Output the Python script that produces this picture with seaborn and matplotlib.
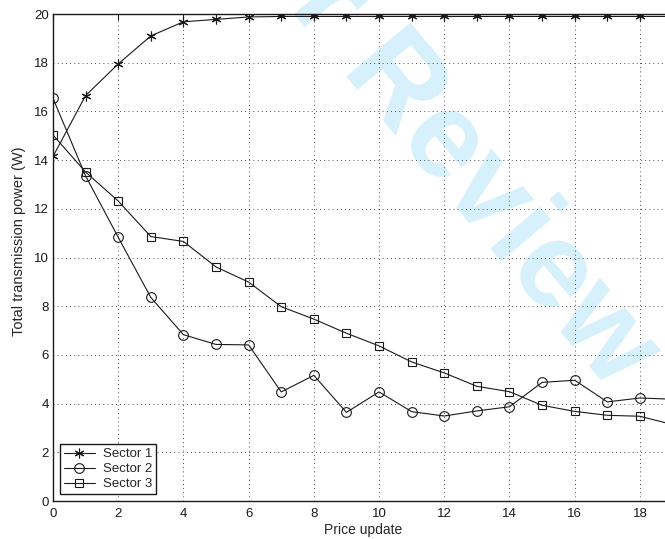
import numpy as np
import pandas as pd
import matplotlib
matplotlib.use("Agg")
import matplotlib.pyplot as plt
import seaborn as sns

# price update steps
updates = list(range(20))

# total transmission power per sector (W)
sector1 = [14.15, 16.65, 17.95, 19.1, 19.68, 19.78, 19.88, 19.9, 19.9, 19.9,
           19.9, 19.9, 19.9, 19.9, 19.9, 19.9, 19.9, 19.9, 19.9, 19.9]
sector2 = [16.54, 13.35, 10.83, 8.36, 6.83, 6.43, 6.41, 4.48, 5.16, 3.64,
           4.48, 3.67, 3.49, 3.7, 3.87, 4.87, 4.96, 4.07, 4.23, 4.18]
sector3 = [15.03, 13.51, 12.32, 10.86, 10.66, 9.61, 8.99, 7.98, 7.47, 6.89,
           6.37, 5.71, 5.26, 4.71, 4.49, 3.93, 3.68, 3.52, 3.48, 3.14]

series_names = ["Sector 1", "Sector 2", "Sector 3"]
watermark = "For Peer Review"

df = pd.DataFrame({
    "update": updates * 3,
    "power": sector1 + sector2 + sector3,
    "sector": np.repeat(series_names, len(updates)),
})

sns.set_theme(style="white")
plt.rcParams["font.family"] = ["Liberation Sans", "DejaVu Sans"]
plt.rcParams["xtick.direction"] = "in"
plt.rcParams["ytick.direction"] = "in"

fig = plt.figure(figsize=(6.65, 5.39), dpi=100)
# the original is cropped on the right, so the axes stop at the figure edge
ax = fig.add_axes([0.0797, 0.0705, 0.9203, 0.9035])
ax.patch.set_alpha(0)

fig.text(0.955, 0.31, watermark, rotation=-50, rotation_mode="anchor",
         ha="right", va="center", fontsize=88, fontweight="bold",
         color="#d6f0fc", zorder=-1)

markers = {"Sector 1": (6, 2, 0), "Sector 2": "o", "Sector 3": "s"}
sizes = {"Sector 1": 7, "Sector 2": 7, "Sector 3": 5.5}

for name in series_names:
    sub = df[df["sector"] == name]
    sns.lineplot(data=sub, x="update", y="power", ax=ax, color="k",
                 linewidth=0.8, marker=markers[name], markersize=sizes[name],
                 markerfacecolor="none", markeredgecolor="k",
                 markeredgewidth=0.8, label=name)

ax.set_xlim(0, 18.77)
ax.set_ylim(0, 20)
ax.set_xticks(np.arange(0, 19, 2))
ax.set_yticks(np.arange(0, 21, 2))
ax.grid(True, linestyle=(0, (1, 4)), color="k", linewidth=0.6)
ax.tick_params(labelsize=9.5, colors="k", length=4, width=0.8, pad=3,
               top=True, right=False)
ax.tick_params(axis="x", pad=5)
for side in ["left", "bottom", "top"]:
    ax.spines[side].set_color("k")
    ax.spines[side].set_linewidth(1.0)
ax.spines["right"].set_visible(False)

ax.set_xlabel("Price update", fontsize=10)
ax.set_ylabel("Total transmission power (W)", fontsize=10.5)
ax.xaxis.set_label_coords(0.506, -0.046)
ax.yaxis.set_label_coords(-0.044, 0.534)

leg = ax.legend(loc="lower left", fontsize=9.5, frameon=True, fancybox=False,
                borderaxespad=0.5, handlelength=2.4, handletextpad=0.6,
                labelspacing=0.22, borderpad=0.3)
leg.get_frame().set_edgecolor("k")
leg.get_frame().set_linewidth(1.0)
leg.get_frame().set_alpha(1)

fig.savefig("out.png", dpi=100)
